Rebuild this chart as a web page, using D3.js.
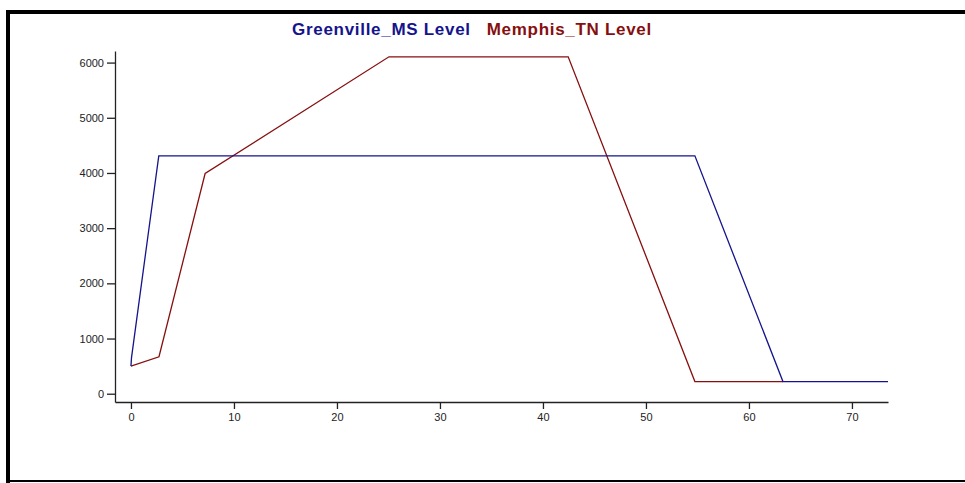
<!DOCTYPE html>
<html>
<head>
<meta charset="utf-8">
<script src="https://cdn.jsdelivr.net/npm/d3@7"></script>
<style>
  body { margin: 0; background: #fff; }
  svg { display: block; font-family: "Liberation Sans", Arial, sans-serif; }
  .axis path, .axis line { stroke: #222; stroke-width: 1.3; }
  .axis text { fill: #222; font-size: 11px; }
</style>
</head>
<body>
<svg class="chart" width="965" height="483"></svg>
<script>
// series (x = time, y = level)
const greenvilleX = [0, 0.05, 2.7, 54.75, 63.3, 73.5];
const greenvilleY = [500, 650, 4310, 4310, 220, 220];
const memphisX = [0, 2.72, 7.2, 25.05, 42.45, 54.75, 63.3];
const memphisY = [500, 670, 3990, 6105, 6105, 220, 220];
const seriesNames = ['Greenville_MS Level', 'Memphis_TN Level'];
const seriesColors = ['#14148c', '#860f0f'];
const xTicks = [0, 10, 20, 30, 40, 50, 60, 70];
const yTicks = [0, 1000, 2000, 3000, 4000, 5000, 6000];

const svg = d3.select('.chart');

// frame
svg.append('rect').attr('x', 6).attr('y', 10).attr('width', 4).attr('height', 473).attr('fill', '#000');
svg.append('rect').attr('x', 6).attr('y', 10).attr('width', 959).attr('height', 4).attr('fill', '#000');
svg.append('rect').attr('x', 6).attr('y', 480).attr('width', 959).attr('height', 2).attr('fill', '#000');

const x = d3.scaleLinear().domain([-1.55, 73.5]).range([115, 888]);
const y = d3.scaleLinear().domain([-150, 6210]).range([402, 51]);

svg.append('g')
  .attr('class', 'axis')
  .attr('transform', `translate(0, ${y(-150)})`)
  .call(d3.axisBottom(x).tickValues(xTicks).tickSize(7).tickSizeOuter(0).tickPadding(4));

svg.append('g')
  .attr('class', 'axis')
  .attr('transform', `translate(${x(-1.55)}, 0)`)
  .call(d3.axisLeft(y).tickValues(yTicks).tickSize(8).tickSizeOuter(0).tickPadding(3).tickFormat(d3.format('d')));

const line = d3.line().x(d => x(d[0])).y(d => y(d[1]));

const series = [
  d3.zip(memphisX, memphisY),
  d3.zip(greenvilleX, greenvilleY),
];
const colors = [seriesColors[1], seriesColors[0]];

svg.append('g')
  .selectAll('path')
  .data(series)
  .enter()
  .append('path')
  .attr('fill', 'none')
  .attr('stroke', (d, i) => colors[i])
  .attr('stroke-width', 1.3)
  .attr('d', line);

// legend / title
const title = svg.append('text')
  .attr('x', 472)
  .attr('y', 35)
  .attr('text-anchor', 'middle')
  .attr('font-size', '17px')
  .attr('letter-spacing', '0.7px')
  .attr('font-weight', 'bold');
title.append('tspan').attr('fill', seriesColors[0]).text(seriesNames[0]);
title.append('tspan').attr('fill', seriesColors[1]).attr('dx', 16).text(seriesNames[1]);
</script>
</body>
</html>
